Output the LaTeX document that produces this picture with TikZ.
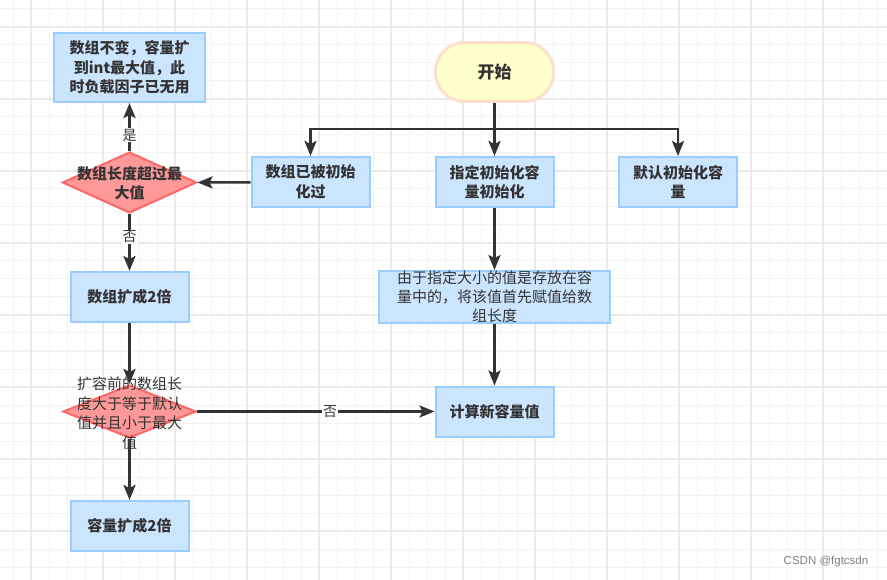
\documentclass[tikz,border=0pt]{standalone}
\usepackage{fontspec}
\setmainfont{Noto Sans CJK SC}
\newfontfamily\markfont{Liberation Sans}
\usetikzlibrary{shapes.geometric,arrows.meta}
\definecolor{boxfill}{RGB}{204,229,255}
\definecolor{boxline}{RGB}{153,204,255}
\definecolor{dmdfill}{RGB}{255,153,153}
\definecolor{dmdline}{RGB}{255,102,102}
\definecolor{pillfill}{RGB}{255,255,204}
\definecolor{pillline}{RGB}{255,224,204}
\definecolor{ink}{RGB}{51,51,51}
\definecolor{gridminor}{RGB}{243,243,243}
\definecolor{gridmajor}{RGB}{234,234,234}
\tikzset{
  procbox/.style = {shape=rectangle, draw=boxline, fill=boxfill,
                    line width=2pt, align=center, text=ink,
                    minimum width=118pt, minimum height=50pt, inner sep=0pt,
                    font=\fontsize{15}{19.5}\selectfont\bfseries},
  startpill/.style = {shape=rectangle, rounded corners=29pt, draw=pillline,
                    fill=pillfill, line width=3pt, text=ink,
                    minimum width=118pt, minimum height=59pt,
                    font=\fontsize{17}{20}\selectfont\bfseries},
  decision/.style = {shape=diamond, draw=dmdline, fill=dmdfill,
                    line width=2pt, inner sep=0pt, aspect=2.2},
  dtext/.style    = {align=center, text=ink, inner sep=0pt,
                    font=\fontsize{15}{19.5}\selectfont},
  flow/.style     = {draw=ink, line width=2.5pt,
                    -{Stealth[length=15pt,width=12pt,inset=3pt]}},
  joint/.style    = {draw=ink, line width=2.5pt},
  answer/.style   = {fill=white, text=ink, inner sep=1pt,
                    font=\fontsize{14}{16}\selectfont}
}
\begin{document}
\begin{tikzpicture}[x=1pt,y=-1pt]
  \useasboundingbox (0,0) rectangle (887,580);
  \fill[white] (0,0) rectangle (887,580);
  % background grid
  \foreach \gx in {13,31,...,877} \draw[gridminor, line width=1pt] (\gx,0) -- (\gx,580);
  \foreach \gy in {9,27,...,575} \draw[gridminor, line width=1pt] (0,\gy) -- (887,\gy);
  \foreach \gx in {31,103,...,823} \draw[gridmajor, line width=1.2pt] (\gx,0) -- (\gx,580);
  \foreach \gy in {27,99,...,531} \draw[gridmajor, line width=1.2pt] (0,\gy) -- (887,\gy);

  \node [startpill] (start) at (494.5,72) {开始};
  \node [procbox] (inited) at (310.5,182) {数组已被初始\\化过};
  \node [procbox] (given) at (494.5,182) {指定初始化容\\量初始化};
  \node [procbox] (dflt) at (678,182) {默认初始化容\\量};
  \node [procbox, minimum width=151pt, minimum height=69pt] (keep) at (129.5,67.5)
        {数组不变，容量扩\\到int最大值，此\\时负载因子已无用};
  \node [decision, minimum width=134pt, minimum height=61pt] (maxchk) at (129.5,182.5) {};
  \node [dtext, font=\fontsize{15}{19.5}\selectfont\bfseries] (maxtxt) at (129.5,183) {数组长度超过最\\大值};
  \node [procbox] (dbl) at (129.5,297) {数组扩成2倍};
  \node [procbox, font=\fontsize{15}{19}\selectfont, minimum width=231pt] (assign) at (494.5,297)
        {由于指定大小的值是存放在容\\量中的，将该值首先赋值给数\\组长度};
  \node [decision, minimum width=133pt, minimum height=53pt] (rangechk) at (129.5,411.5) {};
  \node [dtext] (rangetxt) at (129.5,413) {扩容前的数组长\\度大于等于默认\\值并且小于最大\\值};
  \node [procbox] (calc) at (494.5,411.5) {计算新容量值};
  \node [procbox] (capdbl) at (129.5,526) {容量扩成2倍};
  \node [text=gray, font=\markfont\fontsize{11.5}{13}\selectfont] (mark) at (826,562) {CSDN @fgtcsdn};

  \draw[joint] (start.south) -- (494.5,129) coordinate (fork);
  \draw[flow] (fork) -| (inited);
  \draw[flow] (fork) -| (dflt);
  \draw[flow] (fork) -- (given);
  \draw[flow] (inited) -- (maxchk.east);
  \draw[flow] (maxchk.north) -- node[answer, pos=0.33] {是} (keep);
  \draw[flow] (maxchk.south) -- node[answer, pos=0.4] {否} (dbl);
  \draw[flow] (dbl) -- (rangechk.north);
  \draw[flow] (rangechk.south) -- (capdbl);
  \draw[flow] (rangechk.east) -- node[answer, pos=0.56] {否} (calc);
  \draw[flow] (given) -- (assign);
  \draw[flow] (assign) -- (calc);
\end{tikzpicture}
\end{document}
